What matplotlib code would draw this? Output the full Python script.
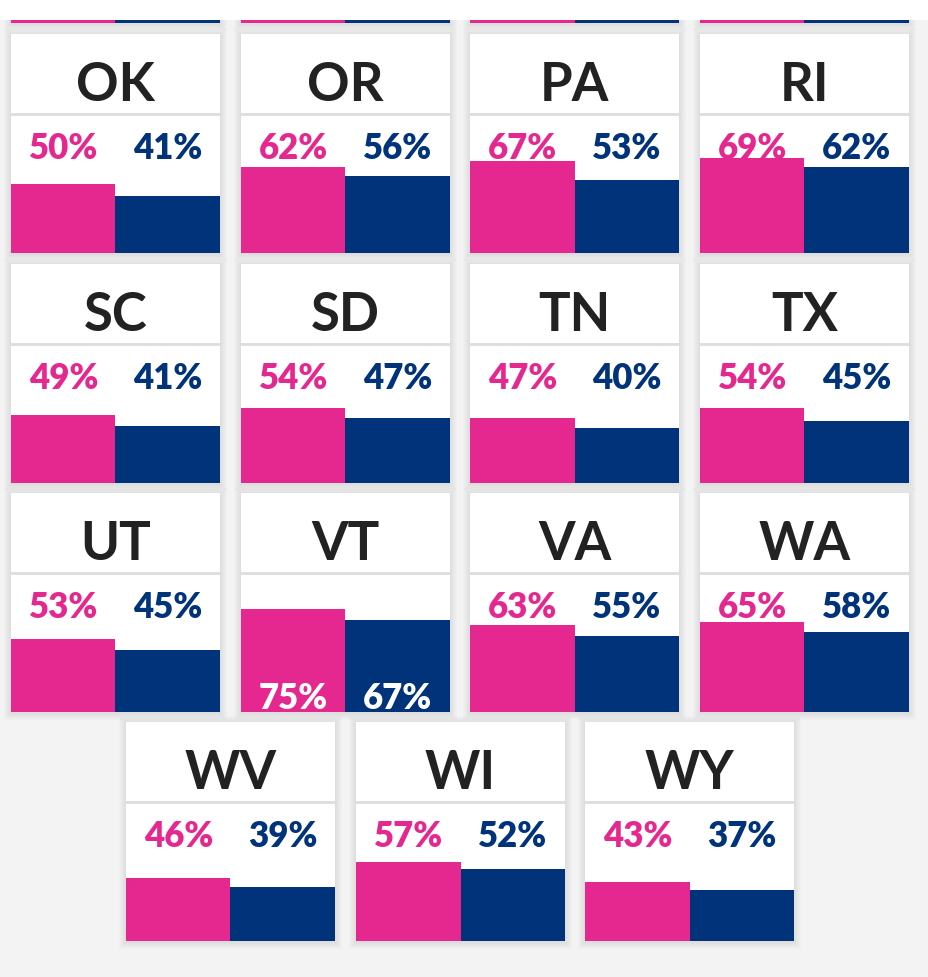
import matplotlib
matplotlib.use('Agg')
import matplotlib.pyplot as plt
from matplotlib.patches import Rectangle
from matplotlib.lines import Line2D

W, H = 929, 977

states = ['OK', 'OR', 'PA', 'RI', 'SC', 'SD', 'TN', 'TX', 'UT', 'VT', 'VA', 'WA', 'WV', 'WI', 'WY']
pink_vals = [50, 62, 67, 69, 49, 54, 47, 54, 53, 75, 63, 65, 46, 57, 43]
blue_vals = [41, 56, 53, 62, 41, 47, 40, 45, 45, 67, 55, 58, 39, 52, 37]

PINK = '#e5288f'
BLUE = '#00337a'
BG = '#f3f3f3'

col_x = [11, 241, 470, 700]
last_row_x = [126, 356, 585]
row_y = [34, 264, 493, 722]
card_w, card_h = 209, 219
head_h = 81  # title part, divider below it

plt.rcParams['font.family'] = ['Lato', 'DejaVu Sans']

fig = plt.figure(figsize=(W / 100, H / 100), dpi=100)
fig.patch.set_facecolor(BG)


def fx(x):
    return x / W


def fy(y):
    return 1 - y / H


def card_box(x, y, w, h):
    # soft shadow
    for i in range(1, 8):
        fig.add_artist(Rectangle((fx(x - i), fy(y + h + i + 1)), (w + 2 * i) / W, (h + 2 * i) / H,
                                 transform=fig.transFigure, color='black', alpha=0.01, lw=0,
                                 zorder=-2))
    fig.add_artist(Rectangle((fx(x), fy(y + h)), w / W, h / H,
                             transform=fig.transFigure, color='white', lw=0, zorder=-1))


# partial row at the top (only bar bottoms visible)
for x in col_x:
    card_box(x, -200, card_w, 223)
    ax = fig.add_axes([fx(x), fy(23), card_w / W, 4 / H])
    ax.bar([0.5, 1.5], [1, 1], width=1, color=[PINK, BLUE])
    ax.set_xlim(0, 2)
    ax.set_ylim(0, 1)
    ax.axis('off')
fig.add_artist(Rectangle((0, fy(20)), 1, 20 / H, transform=fig.transFigure, color='white',
                         lw=0, zorder=10))

positions = []
for r in range(3):
    for c in range(4):
        positions.append((col_x[c], row_y[r]))
for c in range(3):
    positions.append((last_row_x[c], row_y[3]))

for (x, y), st, pv, bv in zip(positions, states, pink_vals, blue_vals):
    card_box(x, y, card_w, card_h)
    fig.text(fx(x + card_w / 2), fy(y + 67), st, ha='center', va='baseline',
             fontsize=38, fontweight='bold', color='#222222')
    fig.add_artist(Line2D([fx(x), fx(x + card_w)], [fy(y + head_h - 1)] * 2,
                          transform=fig.transFigure, color='#dddddd', lw=2))
    ax = fig.add_axes([fx(x), fy(y + card_h), card_w / W, (card_h - head_h) / H])
    ax.set_xlim(0, 2)
    ax.set_ylim(0, 100)
    ax.axis('off')
    ax.bar([0.5, 1.5], [pv, bv], width=1, color=[PINK, BLUE], zorder=3)
    inside = pv > 70
    for xi, v, col in [(0.5, pv, PINK), (1.5, bv, BLUE)]:
        if inside:
            ax.text(xi, 2, f'{v}%', ha='center', va='baseline', fontsize=25,
                    fontweight='heavy', color='white', zorder=4)
        else:
            ax.text(xi, 68, f'{v}%', ha='center', va='baseline', fontsize=25,
                    fontweight='heavy', color=col, zorder=2)

fig.savefig('out.png', dpi=100, facecolor=BG)
